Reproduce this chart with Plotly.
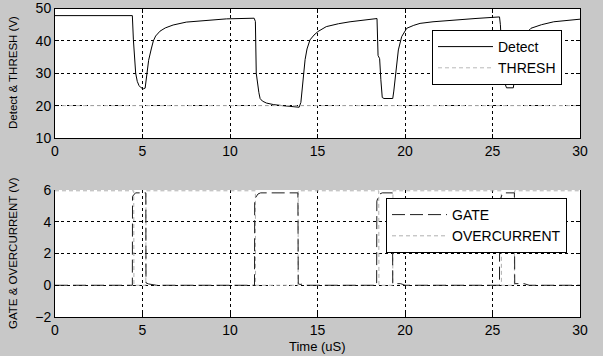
import plotly.graph_objects as go

# ---- Data ----
t_detect = [0, 4.42, 4.48, 4.55, 4.61, 4.7, 4.8, 4.9, 5.05, 5.15, 5.24, 5.35, 5.5, 5.62,
            5.75, 6.0, 6.3, 6.75, 7.5, 8.5, 9.8, 11.38, 11.45, 11.5, 11.55, 11.65, 11.72,
            11.85, 12.08, 12.5, 13.0, 13.5, 13.95, 14.05, 14.15, 14.29, 14.4, 14.57, 14.8,
            15.03, 15.5, 16.2, 16.86, 17.6, 18.4, 18.46, 18.55, 18.62, 18.7, 18.8, 19.3,
            19.36, 19.43, 19.52, 19.62, 19.81, 20.1, 20.5, 20.86, 21.6, 22.57, 24.0, 25.4,
            25.45, 25.5, 25.6, 25.7, 25.8, 26.19, 26.25, 26.35, 26.5, 26.7, 27.0, 27.2,
            27.8, 28.5, 30]
v_detect = [47.8, 47.8, 40.3, 35.0, 30.0, 27.5, 26.2, 25.6, 25.2, 25.4, 30.0, 34.0, 37.5, 40.0,
            41.5, 43.0, 44.0, 44.9, 45.8, 46.3, 46.8, 47.0, 46.0, 30.0, 27.5, 24.0, 22.2,
            21.4, 20.8, 20.3, 20.0, 19.7, 19.5, 21.0, 26.0, 34.2, 37.5, 40.3, 41.8,
            42.9, 44.4, 45.3, 45.9, 46.4, 46.9, 35.5, 34.5, 28.0, 22.5, 22.2, 22.2,
            24.5, 28.0, 33.0, 37.2, 41.3, 43.9, 44.8, 45.4, 45.9, 46.4, 46.9, 47.4,
            45.0, 40.0, 32.0, 27.0, 25.5, 25.5, 28.0, 33.0, 37.5, 40.5, 42.8, 43.9,
            45.0, 45.9, 46.7]

t_thresh = [0, 30]
v_thresh = [20, 20]

t_gate = [0, 4.42, 4.43, 4.6, 5.19, 5.2, 5.35, 5.6, 5.8, 11.4, 11.41, 11.48, 11.6, 11.75,
          13.88, 13.9, 14.0, 14.2, 14.4, 18.38, 18.39, 18.47, 18.56, 18.7, 19.28, 19.3,
          19.5, 19.75, 20.0, 25.4, 25.41, 25.48, 25.56, 25.7, 26.25, 26.27, 26.55, 26.8,
          27.1, 30]
v_gate = [0, 0, 5.6, 5.82, 5.82, 0.15, 0.08, 0.05, 0, 0, 5.3, 5.55, 5.75, 5.82,
          5.82, 0.1, 0.05, 0.08, 0, 0, 5.3, 5.55, 5.75, 5.82, 5.82, 0.1,
          0.12, 0.1, 0, 0, 5.3, 5.55, 5.75, 5.82, 5.82, 0.1, 0.12, 0.1,
          0, 0]

t_oc = [0, 4.5, 4.51, 5.19, 5.2, 11.45, 11.46, 13.89, 13.9, 18.5, 18.51, 19.3, 19.31,
        25.5, 25.51, 26.25, 26.26, 30]
v_oc = [5.95, 5.95, 0, 0, 5.95, 5.95, 0, 0, 5.95, 5.95, 0, 0, 5.95,
        5.95, 0, 0, 5.95, 5.95]

x_ticks = [0, 5, 10, 15, 20, 25, 30]
y1_ticks = [10, 20, 30, 40, 50]
y2_ticks = [-2, 0, 2, 4, 6]

# ---- Figure ----
W, H = 603, 356
FONT = "Liberation Sans, Arial, sans-serif"
BG = "#c8c8c8"

fig = go.Figure()
fig.add_trace(go.Scatter(x=t_detect, y=v_detect, mode="lines", name="Detect",
                         line=dict(color="black", width=1), xaxis="x", yaxis="y",
                         legend="legend"))
fig.add_trace(go.Scatter(x=t_thresh, y=v_thresh, mode="lines", name="THRESH",
                         line=dict(color="#b8b8b8", width=1, dash="4px,3px"),
                         xaxis="x", yaxis="y", legend="legend"))
fig.add_trace(go.Scatter(x=t_oc, y=v_oc, mode="lines", name="OVERCURRENT",
                         line=dict(color="#b0b0b0", width=1, dash="4px,3px"),
                         xaxis="x2", yaxis="y2", legend="legend2", showlegend=False))
fig.add_trace(go.Scatter(x=t_gate, y=v_gate, mode="lines", name="GATE",
                         line=dict(color="#1e1e1e", width=1, dash="13px,5px"),
                         xaxis="x2", yaxis="y2", legend="legend2"))
# legend entry for OVERCURRENT after GATE
fig.add_trace(go.Scatter(x=[None], y=[None], mode="lines", name="OVERCURRENT",
                         line=dict(color="#b0b0b0", width=1, dash="4px,3px"),
                         xaxis="x2", yaxis="y2", legend="legend2"))

def px_x(p):
    return p / W

def px_y(p):
    return 1 - p / H

xdom = [px_x(55), px_x(580)]
axis_common = dict(showline=True, linecolor="black", linewidth=1,
                   ticks="inside", ticklen=4, tickcolor="black", automargin=False,
                   showgrid=True, gridcolor="black", gridwidth=1, griddash="3px,3px",
                   zeroline=False, tickfont=dict(family=FONT, size=14, color="black"))

fig.update_layout(
    width=W, height=H,
    margin=dict(l=0, r=0, t=0, b=0, autoexpand=False),
    paper_bgcolor=BG, plot_bgcolor="white",
    font=dict(family=FONT, color="black"),
    xaxis=dict(domain=xdom, range=[0, 30], tickvals=x_ticks, anchor="y",
               mirror="ticks", **axis_common),
    yaxis=dict(domain=[px_y(138), px_y(8.5)], range=[10, 50], tickvals=y1_ticks,
               anchor="x", mirror="ticks", **axis_common),
    xaxis2=dict(domain=xdom, range=[0, 30], tickvals=x_ticks, anchor="y2",
                mirror=False, **axis_common),
    yaxis2=dict(domain=[px_y(317), px_y(190)], range=[-2, 6], tickvals=y2_ticks,
                anchor="x2", mirror="ticks", **axis_common),
    legend=dict(x=px_x(432), y=px_y(30), xanchor="left", yanchor="top",
                bgcolor="white", bordercolor="black", borderwidth=1,
                font=dict(family=FONT, size=14, color="black"),
                itemwidth=55, tracegroupgap=0),
    legend2=dict(x=px_x(386), y=px_y(198), xanchor="left", yanchor="top",
                 bgcolor="white", bordercolor="black", borderwidth=1,
                 font=dict(family=FONT, size=14, color="black"),
                 itemwidth=55, tracegroupgap=0),
    annotations=[
        dict(text="Detect & THRESH (V)", x=px_x(13), y=px_y(73), xref="paper", yref="paper",
             xanchor="center", yanchor="middle",
             textangle=-90, showarrow=False, font=dict(family=FONT, size=11.5, color="black")),
        dict(text="GATE & OVERCURRENT (V)", x=px_x(13), y=px_y(253), xref="paper", yref="paper",
             xanchor="center", yanchor="middle",
             textangle=-90, showarrow=False, font=dict(family=FONT, size=11.5, color="black")),
        dict(text="Time (uS)", x=px_x(317), y=px_y(346), xref="paper", yref="paper",
             xanchor="center", yanchor="middle",
             showarrow=False, font=dict(family=FONT, size=13, color="black")),
    ],
)

fig.write_html("out.html", config={"displayModeBar": False},
               post_script="document.body.style.margin='0';document.body.style.padding='0';")
